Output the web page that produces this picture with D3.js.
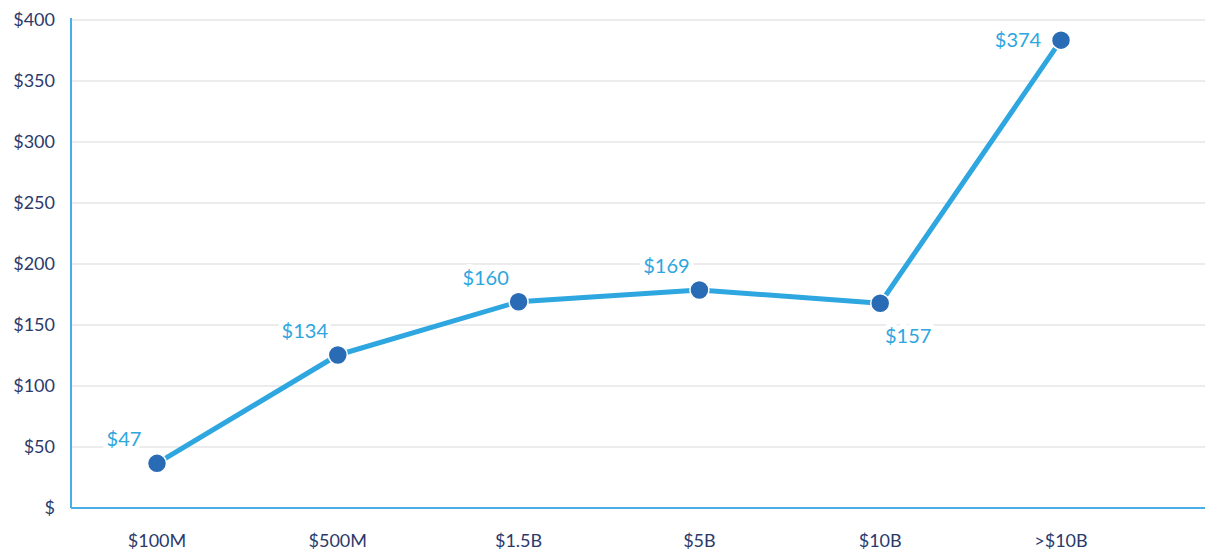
<!DOCTYPE html>
<html><head><meta charset="utf-8">
<script src="https://cdn.jsdelivr.net/npm/d3@7"></script>
<style>body{margin:0;background:#fff}svg{display:block}text{font-family:Lato,"Open Sans",sans-serif}</style>
</head><body><svg id="c" width="1211" height="554"></svg>
<script>
const categories = ["$100M","$500M","$1.5B","$5B","$10B",">$10B"];
const values = [36.6, 125.4, 169.1, 178.7, 167.8, 383.5];
const valueLabels = ["$47","$134","$160","$169","$157","$374"];
const labelPlacement = ["above","above","above","above","below","left"];
const yTicks = [0,50,100,150,200,250,300,350,400];

(function(){
const svg = d3.select("#c");
const pLeft = 71, pRight = 1205, pTop = 20, pBottom = 508;
const x = d3.scalePoint().domain(categories).range([157, 1061]);
const y = d3.scaleLinear().domain([0,400]).range([pBottom, pTop]);
const navy = "#2b3a6b", lineC = "#2ea6df", dotC = "#2a6bb5", axisC = "#4aaee6";

svg.append("g").selectAll("line").data(yTicks.filter(d=>d>0)).join("line")
  .attr("x1", pLeft).attr("x2", pRight).attr("y1", d=>y(d)).attr("y2", d=>y(d))
  .attr("stroke", "#d9d9d9").attr("stroke-width", 1);

svg.append("g").selectAll("text").data(yTicks).join("text")
  .attr("x", 55).attr("y", d=>y(d)).attr("dy", "0.35em").attr("text-anchor","end")
  .attr("fill", navy).attr("font-size", 18)
  .text(d => d === 0 ? "$" : "$" + d);

svg.append("g").selectAll("text").data(categories).join("text")
  .attr("x", d=>x(d)).attr("y", 541).attr("dy","0.35em").attr("text-anchor","middle")
  .attr("fill", navy).attr("font-size", 18).text(d=>d);

svg.append("line").attr("x1", pLeft).attr("x2", pLeft).attr("y1", pTop-2).attr("y2", pBottom)
  .attr("stroke", axisC).attr("stroke-width", 2);
svg.append("line").attr("x1", pLeft).attr("x2", pRight).attr("y1", pBottom).attr("y2", pBottom)
  .attr("stroke", axisC).attr("stroke-width", 2);

const line = d3.line().x((d,i)=>x(categories[i])).y(d=>y(d));
svg.append("path").datum(values).attr("d", line).attr("fill","none")
  .attr("stroke", lineC).attr("stroke-width", 5).attr("stroke-linejoin","round");

const offs = {above:[-33,-24], below:[28,33], left:[-43,0]};
svg.append("g").selectAll("text").data(values).join("text")
  .attr("x", (d,i)=>x(categories[i]) + offs[labelPlacement[i]][0])
  .attr("y", (d,i)=>y(d) + offs[labelPlacement[i]][1])
  .attr("dy","0.35em").attr("text-anchor","middle")
  .attr("fill", lineC).attr("font-size", 20)
  .attr("stroke","#fff").attr("stroke-width", 10).attr("paint-order","stroke")
  .attr("stroke-linejoin","round")
  .text((d,i)=>valueLabels[i]);

svg.append("g").selectAll("circle").data(values).join("circle")
  .attr("cx", (d,i)=>x(categories[i])).attr("cy", d=>y(d)).attr("r", 9.5)
  .attr("fill", dotC).attr("stroke","#fff").attr("stroke-width",1.5);
})();
</script></body></html>
